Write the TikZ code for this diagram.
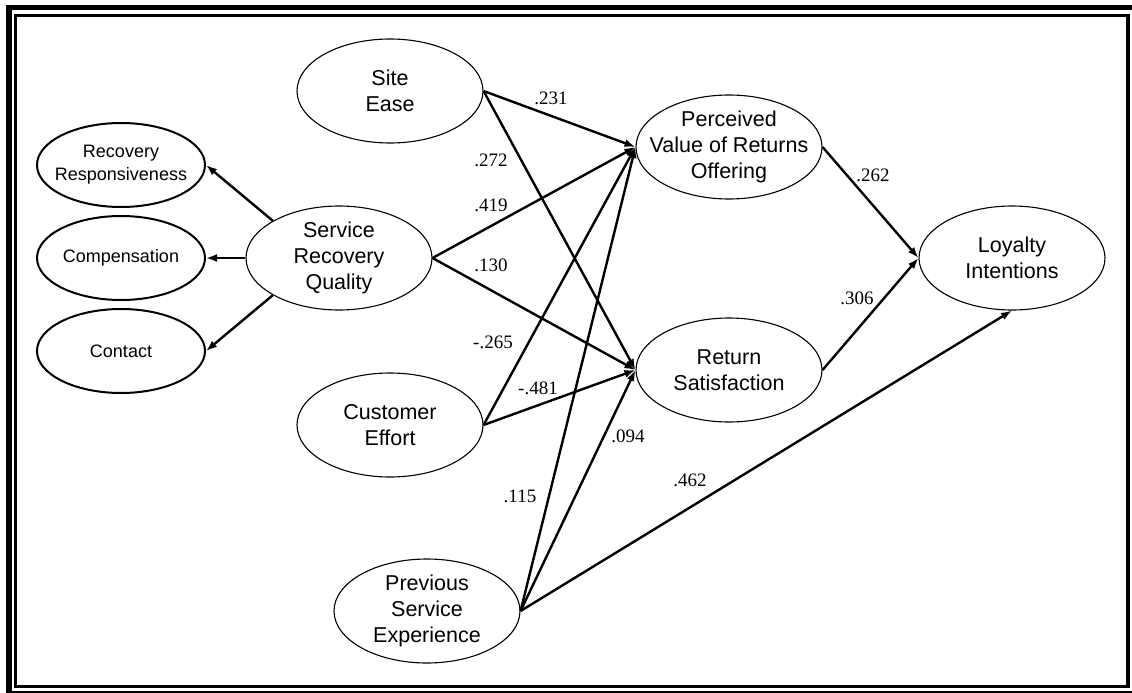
\documentclass[tikz,border=0pt]{standalone}
\usepackage{fontspec}
\setmainfont{Liberation Serif}
\setsansfont{Liberation Sans}
\usetikzlibrary{arrows.meta,shapes.geometric}

\begin{document}
\begin{tikzpicture}[x=1pt,y=-1pt,
  latent/.style={draw,ellipse,line width=1.1pt,minimum width=186pt,minimum height=104pt,
    inner sep=-20pt,align=center,font=\sffamily\fontsize{21.5}{26}\selectfont},
  facet/.style={draw,ellipse,line width=2pt,minimum width=168pt,minimum height=84pt,
    inner sep=-20pt,align=center,font=\sffamily\fontsize{18}{23}\selectfont},
  link/.style={line width=2.4pt,-{Latex[length=11pt,width=8pt]}},
  coef/.style={font=\fontsize{19}{21}\selectfont}]
\useasboundingbox (0,0) rectangle (1132,693);
% frame
\draw[line width=5.5pt] (9,7.5) rectangle (1136.5,693.5);
\draw[line width=3.5pt] (15.5,15.5) rectangle (1128,686.5);
% constructs
\node[latent] (site) at (390,91) {Site\\Ease};
\node[latent] (srq) at (339,258) {Service\\Recovery\\Quality};
\node[latent] (ce) at (390,425) {Customer\\Effort};
\node[latent] (pse) at (427,611) {Previous\\Service\\Experience};
\node[latent] (pv) at (729,147) {Perceived\\Value of Returns\\Offering};
\node[latent] (rs) at (729,370) {Return\\Satisfaction};
\node[latent] (li) at (1012,258) {Loyalty\\Intentions};
\node[facet] (rr) at (121,165) {Recovery\\Responsiveness};
\node[facet] (comp) at (121,258) {Compensation};
\node[facet] (cont) at (121,351) {Contact};
% second order factor
\draw[link] (srq.north west) -- (rr.east);
\draw[link] (srq.west) -- (comp.east);
\draw[link] (srq.south west) -- (cont.east);
% structural paths
\draw[link] (site.east) -- (pv.west);
\draw[link] (site.east) -- (rs.west);
\draw[link] (srq.east) -- (pv.west);
\draw[link] (srq.east) -- (rs.west);
\draw[link] (ce.east) -- (pv.west);
\draw[link] (ce.east) -- (rs.west);
\draw[link] (pse.east) -- (pv.west);
\draw[link] (pse.east) -- (rs.west);
\draw[link] (pse.east) -- (li.south);
\draw[link] (pv.east) -- (li.west);
\draw[link] (rs.east) -- (li.west);
% estimates
\node[coef] (c1) at (551,98) {.231};
\node[coef] (c2) at (491,160) {.272};
\node[coef] (c3) at (491,205) {.419};
\node[coef] (c4) at (491,265) {.130};
\node[coef] (c5) at (493,342) {-.265};
\node[coef] (c6) at (538,388) {-.481};
\node[coef] (c7) at (628,436) {.094};
\node[coef] (c8) at (520,496) {.115};
\node[coef] (c9) at (690,480) {.462};
\node[coef] (c10) at (873,175) {.262};
\node[coef] (c11) at (857,298) {.306};
\end{tikzpicture}
\end{document}
